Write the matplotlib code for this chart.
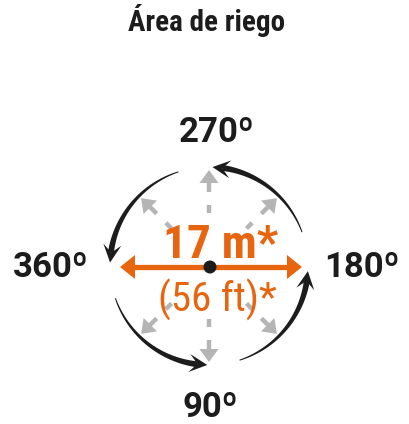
import numpy as np
import matplotlib
matplotlib.use("Agg")
import matplotlib.pyplot as plt
from matplotlib.patches import Polygon, Circle
from matplotlib import font_manager as fm

# content
title = "Área de riego"
angle_labels = ["270º", "360º", "180º", "90º"]
radius_m = 17
radius_ft = 56

orange = "#e8650f"
black = "#1c1c1c"
gray = "#b5b5b5"
font = "Roboto"
names = {f.name for f in fm.fontManager.ttflist}
narrow = "Roboto Condensed" if "Roboto Condensed" in names else (
    "Liberation Sans Narrow" if "Liberation Sans Narrow" in names else font)

W, H = 409, 424
fig = plt.figure(figsize=(W / 100, H / 100), dpi=100)
ax = fig.add_axes([0, 0, 1, 1])
ax.set_xlim(0, W)
ax.set_ylim(H, 0)
ax.axis("off")

cx, cy = 209, 266


def pt(r, deg):
    a = np.radians(deg)
    return np.array([cx + r * np.cos(a), cy - r * np.sin(a)])


def head(tip, d, length, width, notch=0.0, color=black, z=3):
    d = d / np.linalg.norm(d)
    n = np.array([-d[1], d[0]])
    back = tip - length * d
    pts = [tip, back + n * width / 2, tip - (1 - notch) * length * d,
           back - n * width / 2]
    ax.add_patch(Polygon(pts, closed=True, fc=color, ec="none", zorder=z))


# black rotation arcs (start, end) in degrees, counter clockwise
arcs = [(108, 178), (199, 269), (288, 357), (20, 88)]
R = 99
for a0, a1 in arcs:
    hl = 18
    a_end = a1 - np.degrees(hl * 0.55 / R)
    th = np.linspace(a0, a_end, 80)
    w = np.linspace(1.0, 6.0, len(th))
    inner = np.array([pt(R - wi / 2, t) for wi, t in zip(w, th)])
    outer = np.array([pt(R + wi / 2, t) for wi, t in zip(w, th)])
    ax.add_patch(Polygon(np.vstack([outer, inner[::-1]]), closed=True,
                         fc=black, ec="none", zorder=3))
    tip = pt(R, a1)
    d = tip - pt(R, a1 - np.degrees(hl / R))
    head(tip, d, hl, 18, notch=0.45)

# gray dashed direction arrows
for deg in [90, 45, 135, 225, 270, 315]:
    for r0, r1 in [(53, 61), (74, 85)]:
        p0, p1 = pt(r0, deg), pt(r1, deg)
        ax.plot([p0[0], p1[0]], [p0[1], p1[1]], color=gray, lw=3.2,
                solid_capstyle="butt", zorder=1)
    tip = pt(96, deg)
    head(tip, tip - pt(84, deg), 13, 19, color=gray, z=1)

# orange diameter arrow
x_left, x_right = 120, 302
ax.plot([x_left + 10, x_right - 10], [cy + 1, cy + 1], color=orange, lw=3.8,
        solid_capstyle="butt", zorder=4)
head(np.array([x_left, cy + 1]), np.array([-1, 0]), 15, 24, color=orange, z=4)
head(np.array([x_right, cy + 1]), np.array([1, 0]), 15, 24, color=orange, z=4)
ax.add_patch(Circle((cx + 1, cy + 1), 6.5, fc=black, ec="none", zorder=5))

# texts
ax.text(207, 31, title, ha="center", va="baseline", fontsize=21,
        fontweight="bold", color=black, family=narrow)
label_pos = [(217, 142), (51, 277), (362, 277), (210, 417)]
for lab, (x, y) in zip(angle_labels, label_pos):
    ax.text(x, y, lab, ha="center", va="baseline", fontsize=25,
            fontweight="bold", color=black, family=font)
ax.text(221, 258, f"{radius_m} m*", ha="center", va="baseline", fontsize=34,
        fontweight="bold", color=orange, family=narrow, zorder=6)
ax.text(217, 312, f"({radius_ft} ft)*", ha="center", va="baseline",
        fontsize=29.5, color=orange, family=narrow, zorder=6)

fig.savefig("out.png", dpi=100)
